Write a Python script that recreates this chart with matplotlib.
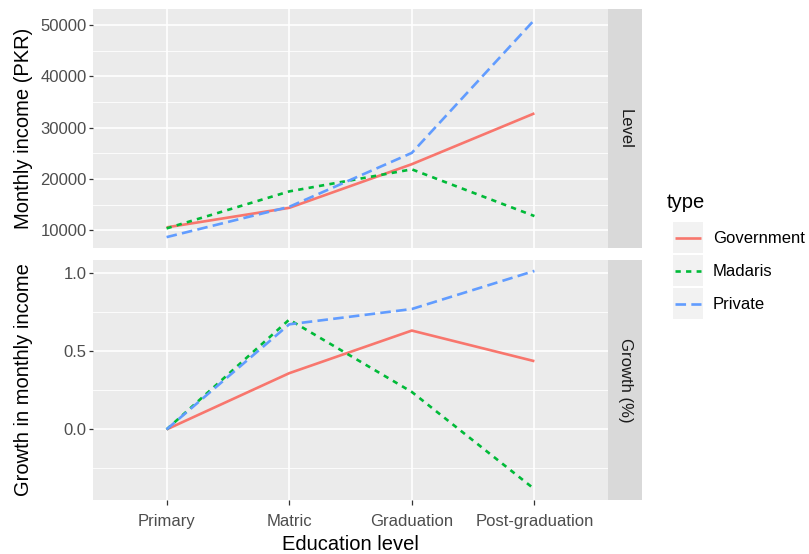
import matplotlib
matplotlib.use("Agg")
import matplotlib.pyplot as plt
from matplotlib.ticker import FixedLocator, AutoMinorLocator, FuncFormatter
from matplotlib.legend_handler import HandlerLine2D
from matplotlib.patches import Rectangle
from matplotlib.lines import Line2D

plt.rcParams['font.family'] = ['Liberation Sans', 'DejaVu Sans']

categories = ["Primary", "Matric", "Graduation", "Post-graduation"]
types = ["Government", "Madaris", "Private"]

level_government = [10600, 14400, 22900, 32800]
level_madaris = [10400, 17600, 21900, 12800]
level_private = [8700, 14600, 25100, 51000]

growth_government = [0.0, 0.36, 0.633, 0.437]
growth_madaris = [0.0, 0.703, 0.24, -0.382]
growth_private = [0.0, 0.673, 0.771, 1.015]

level_ticks = [10000, 20000, 30000, 40000, 50000]
growth_ticks = [0.0, 0.5, 1.0]

colors = {"Government": "#F8766D", "Madaris": "#00BA38", "Private": "#619CFF"}
dashes = {"Government": None, "Madaris": (2, 2), "Private": (4, 2)}

W, H = 809, 554
fig = plt.figure(figsize=(W / 100, H / 100), dpi=100)

def fr(x0, y0, x1, y1):
    return [x0 / W, 1 - y1 / H, (x1 - x0) / W, (y1 - y0) / H]

ax1 = fig.add_axes(fr(93, 9, 608, 248))
ax2 = fig.add_axes(fr(93, 260, 608, 500))

LW = 1.9
xpos = list(range(1, len(categories) + 1))

def draw(ax, series):
    handles = []
    for t, vals in zip(types, series):
        ln, = ax.plot(xpos, vals, color=colors[t], lw=LW, label=t,
                      solid_capstyle='butt', dash_capstyle='butt', zorder=3)
        if dashes[t] is not None:
            ln.set_dashes(dashes[t])
        handles.append(ln)
    return handles

handles = draw(ax1, [level_government, level_madaris, level_private])
draw(ax2, [growth_government, growth_madaris, growth_private])

for ax, ticks in ((ax1, level_ticks), (ax2, growth_ticks)):
    ax.set_facecolor("#EBEBEB")
    for s in ax.spines.values():
        s.set_visible(False)
    ax.set_xlim(0.4, len(categories) + 0.6)
    ax.margins(y=0.05)
    ax.yaxis.set_major_locator(FixedLocator(ticks))
    ax.yaxis.set_minor_locator(AutoMinorLocator(2))
    ax.xaxis.set_major_locator(FixedLocator(xpos))
    ax.grid(which='major', color='white', lw=1.2)
    ax.grid(which='minor', axis='y', color='white', lw=0.6)
    ax.set_axisbelow(True)
    ax.tick_params(axis='y', which='major', length=3, width=0.9, color='#333333',
                   labelsize=12, labelcolor='#4D4D4D', pad=1.5)
    ax.tick_params(axis='y', which='minor', length=0)

ax1.yaxis.set_major_formatter(FuncFormatter(lambda v, p: f"{int(v)}"))
ax2.yaxis.set_major_formatter(FuncFormatter(lambda v, p: f"{v:.1f}"))

ax1.tick_params(axis='x', length=0, labelbottom=False)
ax2.tick_params(axis='x', length=3.5, width=0.9, color='#333333',
                labelsize=12, labelcolor='#4D4D4D', pad=6.5)
ax2.set_xticklabels(categories)

ax1.set_ylabel("Monthly income (PKR)", fontsize=14.5, color='black')
ax2.set_ylabel("Growth in monthly income", fontsize=14.5, color='black')
ax1.yaxis.set_label_coords(33 / W, 1 - 128.5 / H, transform=fig.transFigure)
ax2.yaxis.set_label_coords(33 / W, 1 - 380 / H, transform=fig.transFigure)
ax2.set_xlabel("Education level", fontsize=14.5, color='black', labelpad=4.5)

# facet strips
for (y0, y1), lab in (((9, 248), "Level"), ((260, 500), "Growth (%)")):
    sax = fig.add_axes(fr(608, y0, 642, y1))
    sax.set_facecolor("#D9D9D9")
    sax.set_xticks([]); sax.set_yticks([])
    for s in sax.spines.values():
        s.set_visible(False)
    sax.text(0.5, 0.5, lab, rotation=-90, ha='center', va='center',
             fontsize=12, color='#1A1A1A', transform=sax.transAxes)

class KeyHandler(HandlerLine2D):
    def create_artists(self, legend, orig_handle, xdescent, ydescent,
                       width, height, fontsize, trans):
        rect = Rectangle((-xdescent, -ydescent), width, height,
                         facecolor='#F2F2F2', edgecolor='none', transform=trans)
        y = height / 2 - ydescent
        ln = Line2D([-xdescent + 0.08 * width, -xdescent + 0.92 * width], [y, y],
                    color=orig_handle.get_color(), lw=orig_handle.get_linewidth(),
                    transform=trans, solid_capstyle='butt', dash_capstyle='butt')
        d = dashes[orig_handle.get_label()]
        if d is not None:
            ln.set_dashes(d)
        return [rect, ln]

fig.text(667 / W, 1 - 203 / H, "type", fontsize=14.5, ha='left', va='center',
         color='black')
leg = fig.legend(handles=handles, labels=types, loc='upper left',
                 bbox_to_anchor=(673 / W, 1 - 222 / H), frameon=False,
                 fontsize=12, handler_map={Line2D: KeyHandler()},
                 handlelength=1.8, handleheight=2.485, labelspacing=0.12,
                 handletextpad=0.6, borderpad=0, borderaxespad=0)

fig.savefig("out.png", dpi=100, facecolor='white')
